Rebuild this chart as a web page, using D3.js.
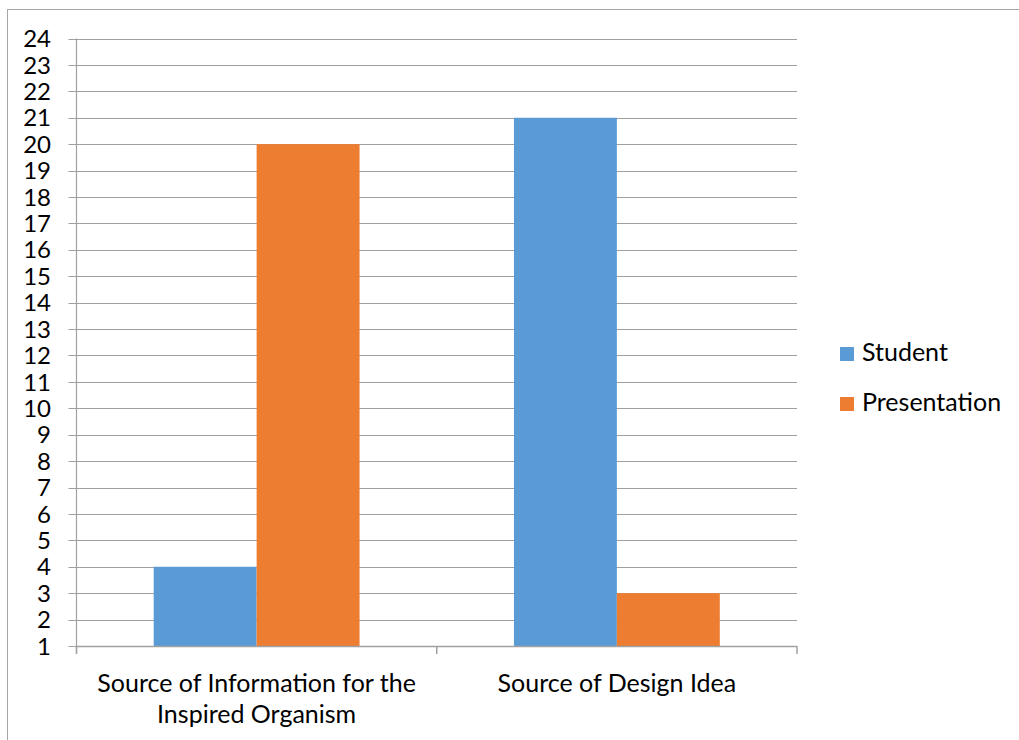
<!DOCTYPE html>
<html><head><meta charset="utf-8">
<script src="https://cdn.jsdelivr.net/npm/d3@7"></script>
<style>body{margin:0;background:#fff}svg{display:block}</style>
</head><body>
<svg id="c" width="1019" height="740"></svg>
<script>
const categories = [["Source of Information for the","Inspired Organism"],["Source of Design Idea"]];
const seriesNames = ["Student","Presentation"];
const student = [4, 21];
const presentation = [20, 3];
const colors = ["#5B9BD5","#ED7D31"];
const yTicks = d3.range(1, 25);

const svg = d3.select("#c");
const font = "Lato, 'Open Sans', sans-serif";
const L = 76.5, R = 797, T = 38.5, B = 646;

svg.append("rect").attr("x",7.5).attr("y",9.5).attr("width",1100).attr("height",900)
  .attr("fill","none").attr("stroke","#a6a6a6").attr("stroke-width",1);

const x0 = d3.scaleBand().domain(d3.range(categories.length)).range([L,R]).paddingInner(0).paddingOuter(0);
const bw = x0.bandwidth()/3.5;
const x1 = d3.scaleBand().domain(seriesNames).range([0.75*bw, 2.75*bw]).padding(0);
const y = d3.scaleLinear().domain([1,24]).range([B,T]);

// gridlines
svg.append("g").selectAll("line").data(yTicks).join("line")
  .attr("x1",L-8).attr("x2",R).attr("y1",d=>Math.round(y(d))+0.5).attr("y2",d=>Math.round(y(d))+0.5)
  .attr("stroke","#a0a0a0").attr("stroke-width",1.2);

// bars
const data = seriesNames.map((s,i)=>({name:s, values: i===0?student:presentation}));
data.forEach((s,si)=>{
  svg.append("g").selectAll("rect").data(s.values).join("rect")
    .attr("x",(d,i)=>x0(i)+x1(s.name)).attr("width",x1.bandwidth())
    .attr("y",d=>y(d)).attr("height",d=>y(1)-y(d)).attr("fill",colors[si]);
});

// axes lines
svg.append("line").attr("x1",L).attr("x2",L).attr("y1",T).attr("y2",B+7).attr("stroke","#a0a0a0").attr("stroke-width",1.2);
svg.append("line").attr("x1",L).attr("x2",R).attr("y1",Math.round(B)+0.5).attr("y2",Math.round(B)+0.5).attr("stroke","#a0a0a0").attr("stroke-width",1.5);
const xt = d3.range(categories.length+1).map(i=>L+i*x0.bandwidth());
svg.append("g").selectAll("line").data(xt).join("line")
  .attr("x1",d=>d).attr("x2",d=>d).attr("y1",B).attr("y2",B+8).attr("stroke","#a0a0a0").attr("stroke-width",1.5);

// y labels
svg.append("g").selectAll("text").data(yTicks).join("text")
  .attr("x",51).attr("y",d=>y(d)).attr("dy","0.36em").attr("text-anchor","end")
  .attr("font-family",font).attr("font-size",24).attr("fill","#000").text(d=>d);

// category labels
categories.forEach((lines,i)=>{
  lines.forEach((t,j)=>{
    svg.append("text").attr("x",x0(i)+x0.bandwidth()/2).attr("y",692+j*31)
      .attr("text-anchor","middle").attr("font-family",font).attr("font-size",25).attr("fill","#000").text(t);
  });
});

// legend
seriesNames.forEach((s,i)=>{
  const yy = 347 + i*50;
  svg.append("rect").attr("x",840).attr("y",yy).attr("width",14).attr("height",14).attr("fill",colors[i]);
  svg.append("text").attr("x",862).attr("y",yy+14).attr("font-family",font).attr("font-size",25).attr("fill","#000").text(s);
});
</script>
</body></html>
